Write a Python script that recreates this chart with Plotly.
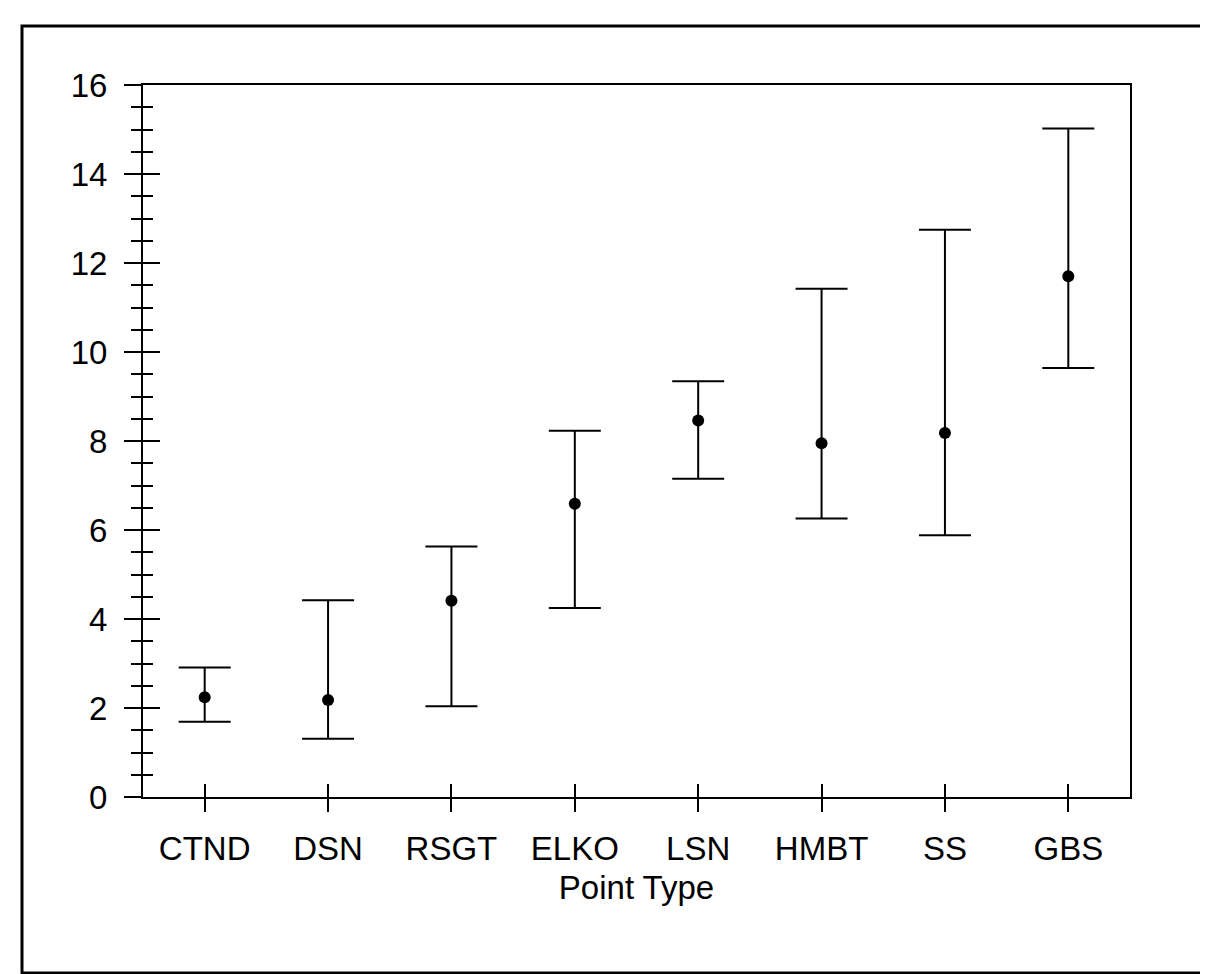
import plotly.graph_objects as go

categories = ["CTND", "DSN", "RSGT", "ELKO", "LSN", "HMBT", "SS", "GBS"]
means = [2.24, 2.18, 4.41, 6.59, 8.46, 7.95, 8.18, 11.70]
upper = [2.91, 4.42, 5.63, 8.23, 9.34, 11.42, 12.75, 15.02]
lower = [1.69, 1.31, 2.04, 4.25, 7.15, 6.26, 5.88, 9.64]
y_tick_vals = [0, 2, 4, 6, 8, 10, 12, 14, 16]
x_title = "Point Type"

err_plus = [u - m for u, m in zip(upper, means)]
err_minus = [m - l for m, l in zip(means, lower)]

W, H = 1208, 974
L, R, T, B = 135, 1122, 77, 789
FONT = "Liberation Sans, Arial, sans-serif"
FS = 33

fig = go.Figure()
fig.add_trace(go.Scatter(
    x=list(range(len(categories))), y=means, mode="markers",
    marker=dict(color="black", size=12),
    error_y=dict(type="data", symmetric=False, array=err_plus, arrayminus=err_minus,
                 color="black", thickness=2, width=26),
    showlegend=False, hoverinfo="skip",
))
# invisible trace so the overlay axes (inner halves of crossing ticks) are drawn
fig.add_trace(go.Scatter(
    x=list(range(len(categories))), y=means, mode="markers", xaxis="x2", yaxis="y2",
    marker=dict(opacity=0), showlegend=False, hoverinfo="skip",
))

xcommon = dict(range=[-0.5, 7.5], tickvals=list(range(len(categories))),
               showgrid=False, zeroline=False, ticklen=13, tickwidth=2, tickcolor="black")
ycommon = dict(range=[0, 16], tickvals=y_tick_vals, showgrid=False, zeroline=False,
               ticklen=17, tickwidth=2, tickcolor="black")

fig.update_layout(
    width=W, height=H,
    margin=dict(l=L, r=W - R, t=T, b=H - B),
    paper_bgcolor="white", plot_bgcolor="white",
    font=dict(family=FONT, color="black", size=FS),
    xaxis=dict(**xcommon, ticktext=categories, ticks="outside", showline=True,
               linecolor="black", linewidth=2, mirror=True,
               tickfont=dict(size=FS), ticklabelstandoff=8,
               title=dict(text=x_title, font=dict(size=FS), standoff=10)),
    xaxis2=dict(**xcommon, overlaying="x", anchor="y2", side="bottom", ticks="inside",
                showticklabels=False, showline=False),
    yaxis=dict(**ycommon, ticks="outside", showline=True, linecolor="black", linewidth=2,
               mirror=True, tickfont=dict(size=FS), ticklabelstandoff=10,
               minor=dict(dtick=0.5, ticks="outside", ticklen=10, tickwidth=2, tickcolor="black")),
    yaxis2=dict(**ycommon, overlaying="y", anchor="x2", side="left", ticks="inside",
                showticklabels=False, showline=False,
                minor=dict(dtick=0.5, ticks="inside", ticklen=10, tickwidth=2, tickcolor="black")),
)

# Outer border of the figure panel
pw, ph = R - L, B - T
fig.add_shape(type="rect", xref="paper", yref="paper",
              x0=(14 - L) / pw, x1=(1196 - L) / pw,
              y0=(B - 965) / ph, y1=(B - 18) / ph,
              line=dict(color="black", width=3), fillcolor="rgba(0,0,0,0)")

fig.write_html("out.html")
